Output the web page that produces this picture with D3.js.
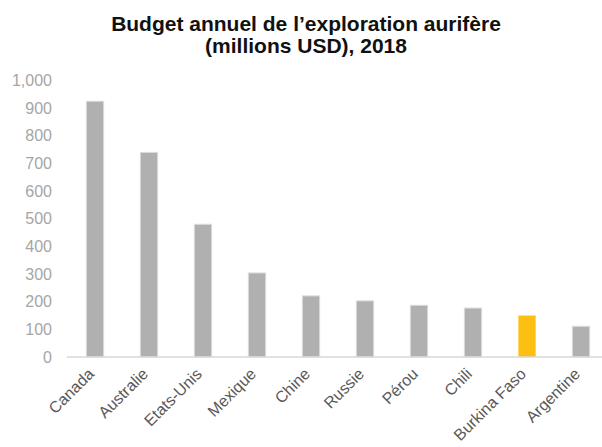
<!DOCTYPE html>
<html>
<head>
<meta charset="utf-8">
<script src="https://cdn.jsdelivr.net/npm/d3@7"></script>
<style>
  body { margin: 0; background: #fff; }
  svg { display: block; }
</style>
</head>
<body>
<div id="chart"></div>
<script>
const countries = ["Canada", "Australie", "Etats-Unis", "Mexique", "Chine", "Russie", "Pérou", "Chili", "Burkina Faso", "Argentine"];
const budgets = [925, 740, 480, 304, 221, 203, 187, 177, 150, 111];
const highlight = "Burkina Faso";
const yTicks = [0, 100, 200, 300, 400, 500, 600, 700, 800, 900, 1000];
const titleLines = ["Budget annuel de l\u2019exploration aurifère", "(millions USD), 2018"];

const width = 602;
const height = 447;

const svg = d3.select("#chart")
    .append("svg")
    .attr("width", width)
    .attr("height", height);

const x = d3.scaleBand()
    .domain(countries)
    .range([68, 608])
    .paddingInner(0.68)
    .paddingOuter(0.34);

const y = d3.scaleLinear()
    .domain([0, 1000])
    .range([357, 80.5]);

// title
svg.append("g")
    .selectAll("text")
    .data(titleLines)
    .join("text")
    .attr("x", 306)
    .attr("y", (d, i) => 31 + i * 22)
    .attr("text-anchor", "middle")
    .attr("font-family", "Liberation Sans, Arial, sans-serif")
    .attr("font-size", "21px")
    .attr("font-weight", "bold")
    .attr("fill", "#111")
    .text(d => d);

// y axis labels
svg.append("g")
    .attr("transform", "translate(52,0)")
    .call(d3.axisLeft(y).tickValues(yTicks).tickFormat(d3.format(",")).tickSize(0).tickPadding(0))
    .call(g => g.select(".domain").remove())
    .call(g => g.selectAll("text")
        .attr("font-family", "Liberation Sans, Arial, sans-serif")
        .attr("font-size", "16px")
        .attr("fill", "#a6a6a6"));

// bars
svg.append("g")
    .selectAll("rect")
    .data(countries)
    .join("rect")
    .attr("x", d => x(d))
    .attr("y", (d, i) => y(budgets[i]))
    .attr("width", x.bandwidth())
    .attr("height", (d, i) => y(0) - y(budgets[i]))
    .attr("fill", d => d === highlight ? "#fdbf14" : "#b0b0b0")
    .attr("stroke", d => d === highlight ? "none" : "#dcdcdc")
    .attr("stroke-width", 1);

// x axis
svg.append("g")
    .attr("transform", `translate(0,${y(0)})`)
    .call(d3.axisBottom(x).tickSize(0).tickPadding(0))
    .call(g => g.select(".domain").attr("stroke", "#d9d9d9").attr("stroke-width", 1.5).attr("d", "M67,0H602"))
    .call(g => g.selectAll("text")
        .attr("font-family", "Liberation Sans Narrow, Liberation Sans, Arial, sans-serif")
        .attr("font-size", "16px")
        .attr("fill", "#595959")
        .attr("text-anchor", "end")
        .attr("dy", "0")
        .attr("transform", "translate(0,18) rotate(-45)"));
</script>
</body>
</html>
